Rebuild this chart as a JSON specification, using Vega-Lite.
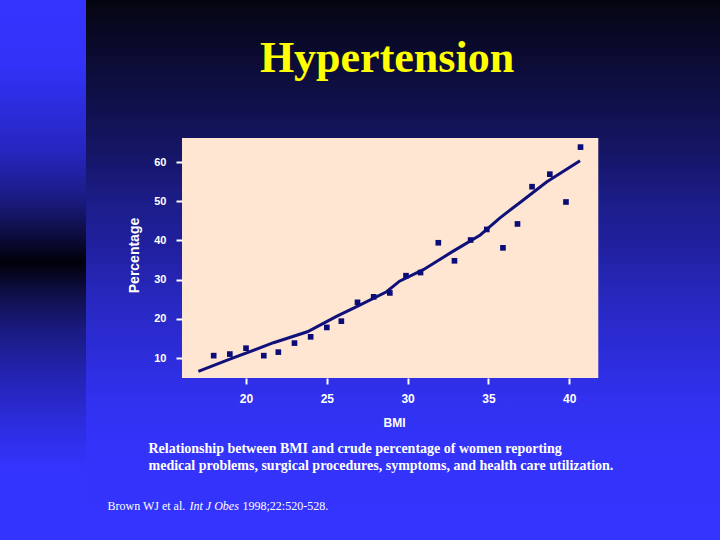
{
  "$schema": "https://vega.github.io/schema/vega-lite/v6.json",
  "width": 720,
  "height": 540,
  "padding": 0,
  "autosize": {"type": "none"},
  "background": "#1c1c88",
  "config": {"view": {"stroke": null}},
  "title": {
    "text": "Hypertension",
    "anchor": "middle",
    "frame": "group",
    "offset": -116,
    "baseline": "alphabetic",
    "dx": 27,
    "font": "Liberation Serif",
    "fontSize": 44,
    "fontWeight": "bold",
    "color": "#ffff00"
  },
  "datasets": {
    "obs": [
      {"bmi": 18.0, "pct": 10.6},
      {"bmi": 19.0, "pct": 11.0},
      {"bmi": 20.0, "pct": 12.5},
      {"bmi": 21.1, "pct": 10.6},
      {"bmi": 22.0, "pct": 11.5},
      {"bmi": 23.0, "pct": 13.8},
      {"bmi": 24.0, "pct": 15.4},
      {"bmi": 25.0, "pct": 17.8},
      {"bmi": 25.9, "pct": 19.4},
      {"bmi": 26.9, "pct": 24.2},
      {"bmi": 27.9, "pct": 25.6},
      {"bmi": 28.9, "pct": 26.6},
      {"bmi": 29.9, "pct": 31.0},
      {"bmi": 30.8, "pct": 31.8},
      {"bmi": 31.9, "pct": 39.4},
      {"bmi": 32.9, "pct": 34.8},
      {"bmi": 33.9, "pct": 40.1},
      {"bmi": 34.9, "pct": 42.8},
      {"bmi": 35.9, "pct": 38.1},
      {"bmi": 36.8, "pct": 44.2},
      {"bmi": 37.7, "pct": 53.7},
      {"bmi": 38.8, "pct": 56.9},
      {"bmi": 39.8, "pct": 49.8},
      {"bmi": 40.7, "pct": 63.8}
    ],
    "fit": [
      {"bmi": 17.05, "pct": 6.6},
      {"bmi": 19.0, "pct": 9.7},
      {"bmi": 21.7, "pct": 13.9},
      {"bmi": 23.8, "pct": 16.7},
      {"bmi": 25.6, "pct": 20.6},
      {"bmi": 26.85, "pct": 23.1},
      {"bmi": 28.7, "pct": 26.9},
      {"bmi": 29.5, "pct": 29.6},
      {"bmi": 31.0, "pct": 32.6},
      {"bmi": 32.8, "pct": 37.2},
      {"bmi": 34.5, "pct": 41.4},
      {"bmi": 35.7, "pct": 45.7},
      {"bmi": 37.0, "pct": 49.8},
      {"bmi": 38.6, "pct": 54.9},
      {"bmi": 40.67, "pct": 60.3}
    ]
  },
  "resolve": {"axis": {"x": "independent", "y": "independent"}},
  "layer": [
    {
      "data": {"values": [{}]},
      "mark": {
        "type": "rect",
        "fill": {
          "gradient": "linear",
          "x1": 0, "y1": 0, "x2": 0, "y2": 1,
          "stops": [
            {"offset": 0, "color": "#050510"},
            {"offset": 0.09, "color": "#0a0a2e"},
            {"offset": 0.185, "color": "#10104a"},
            {"offset": 0.28, "color": "#151565"},
            {"offset": 0.37, "color": "#1c1c88"},
            {"offset": 0.46, "color": "#2020a0"},
            {"offset": 0.555, "color": "#2828c0"},
            {"offset": 0.65, "color": "#2c2cd8"},
            {"offset": 0.74, "color": "#3131ef"},
            {"offset": 0.83, "color": "#3333fa"},
            {"offset": 1, "color": "#3434ff"}
          ]
        }
      },
      "encoding": {}
    },
    {
      "data": {"values": [{}]},
      "mark": {
        "type": "rect",
        "fill": {
          "gradient": "linear",
          "x1": 0, "y1": 0, "x2": 0, "y2": 1,
          "stops": [
            {"offset": 0, "color": "#3434ff"},
            {"offset": 0.12, "color": "#3232f8"},
            {"offset": 0.28, "color": "#2626c0"},
            {"offset": 0.37, "color": "#1a1a80"},
            {"offset": 0.445, "color": "#0a0a35"},
            {"offset": 0.485, "color": "#00000a"},
            {"offset": 0.54, "color": "#0e0e45"},
            {"offset": 0.61, "color": "#1a1a80"},
            {"offset": 0.7, "color": "#2424b5"},
            {"offset": 0.8, "color": "#2e2ee5"},
            {"offset": 0.87, "color": "#3434ff"},
            {"offset": 1, "color": "#3434ff"}
          ]
        }
      },
      "encoding": {
        "x": {"datum": 4.777, "type": "quantitative", "scale": {"domain": [4.777, 49.332], "nice": false, "zero": false}, "axis": null},
        "x2": {"datum": 10.099}
      }
    },
    {
      "data": {"values": [{}]},
      "mark": {"type": "rect", "fill": "#fee6d2"},
      "encoding": {
        "x": {
          "datum": 16.04, "type": "quantitative",
          "scale": {"domain": [4.777, 49.332], "nice": false, "zero": false},
          "axis": {
            "zindex": 3,
            "orient": "bottom", "offset": -162, "domain": false, "ticks": false, "labels": false, "grid": false,
            "title": "Brown WJ et al.",
            "titleFont": "Liberation Serif", "titleFontSize": 12, "titleFontWeight": "normal", "titleColor": "#ffffff",
            "titleAlign": "left", "titleBaseline": "alphabetic", "titleX": 107, "titleY": 131
          }
        },
        "x2": {"datum": 41.8},
        "y": {
          "datum": 66.12, "type": "quantitative",
          "scale": {"domain": [-36.43, 101.33], "nice": false, "zero": false},
          "axis": {
            "zindex": 3,
            "orient": "right", "offset": 0, "domain": false, "ticks": false, "labels": false, "grid": false,
            "title": "Int J Obes",
            "titleFont": "Liberation Serif", "titleFontSize": 12, "titleFontWeight": "normal", "titleFontStyle": "italic", "titleColor": "#ffffff",
            "titleAngle": 0, "titleAlign": "left", "titleBaseline": "alphabetic", "titleX": -531, "titleY": 509
          }
        },
        "y2": {"datum": 4.9}
      }
    },
    {
      "data": {"name": "fit"},
      "mark": {"type": "line", "color": "#10107a", "strokeWidth": 3},
      "encoding": {
        "x": {
          "field": "bmi", "type": "quantitative",
          "scale": {"domain": [4.777, 49.332], "nice": false, "zero": false},
          "axis": {
            "zindex": 3,
            "orient": "bottom", "offset": -162, "domain": false, "ticks": false, "labels": false, "grid": false,
            "title": ["Relationship between BMI and crude percentage of women reporting", "medical problems, surgical procedures, symptoms, and health care utilization."],
            "titleFont": "Liberation Serif", "titleFontSize": 14, "titleFontWeight": "bold", "titleColor": "#ffffff",
            "titleAlign": "left", "titleBaseline": "alphabetic", "titleX": 148, "titleY": 74, "titleLineHeight": 17
          }
        },
        "y": {
          "field": "pct", "type": "quantitative",
          "scale": {"domain": [-36.43, 101.33], "nice": false, "zero": false},
          "axis": {
            "zindex": 3,
            "orient": "right", "offset": 0, "domain": false, "ticks": false, "labels": false, "grid": false,
            "title": "1998;22:520-528.",
            "titleFont": "Liberation Serif", "titleFontSize": 12, "titleFontWeight": "normal", "titleColor": "#ffffff",
            "titleAngle": 0, "titleAlign": "left", "titleBaseline": "alphabetic", "titleX": -478, "titleY": 509
          }
        }
      }
    },
    {
      "data": {"name": "obs"},
      "mark": {"type": "square", "color": "#0c0c78", "size": 32, "opacity": 1},
      "encoding": {
        "x": {
          "field": "bmi", "type": "quantitative",
          "scale": {"domain": [4.777, 49.332], "nice": false, "zero": false},
          "axis": {
            "zindex": 3,
            "orient": "bottom", "offset": -162, "values": [20, 25, 30, 35, 40], "domain": false, "grid": false,
            "tickColor": "#ffffff", "tickSize": 6, "tickWidth": 2,
            "labelColor": "#ffffff", "labelFont": "Liberation Sans", "labelFontWeight": "bold", "labelFontSize": 12, "labelPadding": 9, "labelFlush": false,
            "title": "BMI", "titleColor": "#ffffff", "titleFont": "Liberation Sans", "titleFontWeight": "bold", "titleFontSize": 12,
            "titleX": 394, "titleY": 44, "titleBaseline": "middle", "titleAlign": "center"
          }
        },
        "y": {
          "field": "pct", "type": "quantitative",
          "scale": {"domain": [-36.43, 101.33], "nice": false, "zero": false},
          "axis": {
            "zindex": 3,
            "orient": "left", "offset": -182, "values": [10, 20, 30, 40, 50, 60], "domain": false, "grid": false,
            "tickColor": "#ffffff", "tickSize": 6, "tickWidth": 2,
            "labelColor": "#ffffff", "labelFont": "Liberation Sans", "labelFontWeight": "bold", "labelFontSize": 11, "labelPadding": 10, "labelFlush": false,
            "title": "Percentage", "titleColor": "#ffffff", "titleFont": "Liberation Sans", "titleFontWeight": "bold", "titleFontSize": 14,
            "titleX": -48, "titleY": 255, "titleAngle": 270, "titleBaseline": "middle", "titleAlign": "center"
          }
        }
      }
    }
  ]
}
